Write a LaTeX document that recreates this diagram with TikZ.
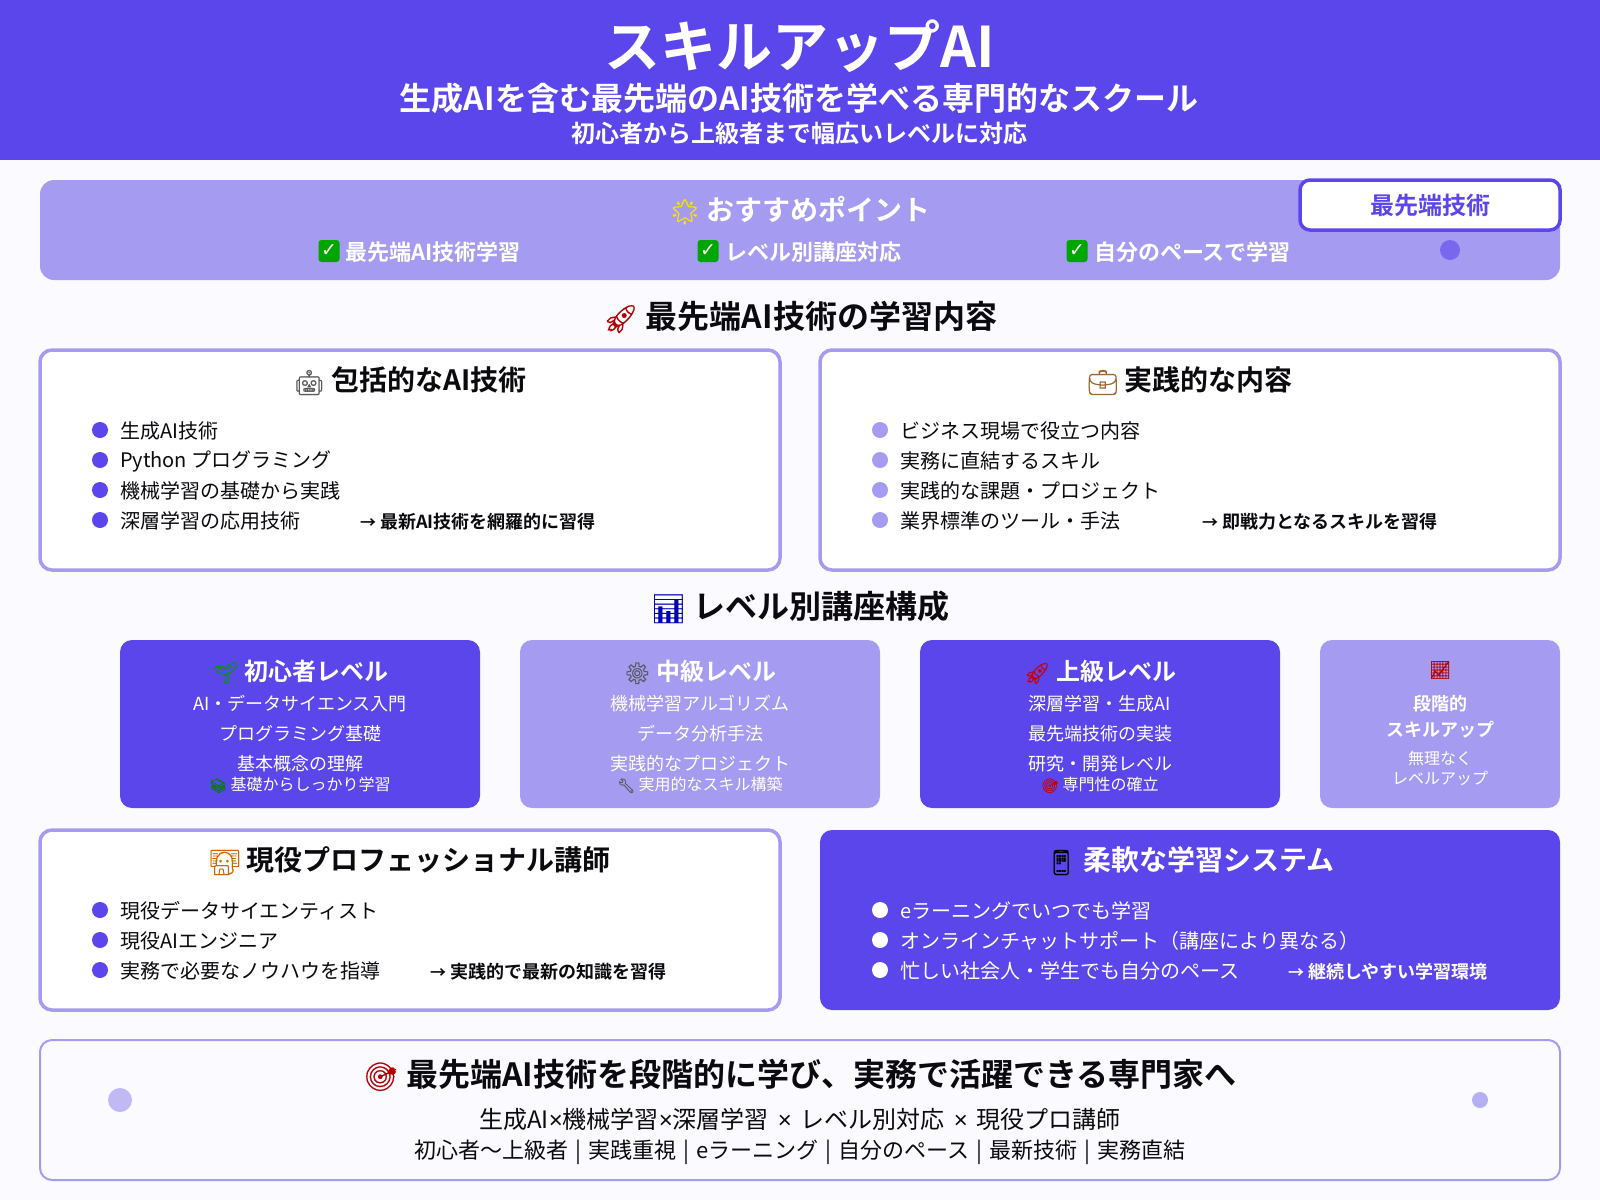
\documentclass[tikz,border=0pt]{standalone}
\usepackage{fontspec}
\setmainfont{Noto Sans CJK JP}[BoldFont={Noto Sans CJK JP Bold},Script=CJK]
\newfontfamily\emj{Noto Emoji}[Scale=0.88,FakeBold=0.6]
\newfontfamily\djv{DejaVu Sans}
\newfontfamily\lat{Liberation Sans}
\definecolor{pri}{HTML}{5B46EC}
\definecolor{lit}{HTML}{A59BF0}
\definecolor{bg}{HTML}{FAFAFF}
\definecolor{ink}{HTML}{0A0A0F}
\newcommand{\fs}[1]{\fontsize{#1}{#1}\selectfont}
\newcommand{\emo}[2]{{\color{#1}\emj #2}}
\newcommand{\arr}{{\fs{16}→}}
\newcommand{\sepbar}{\hspace{7pt}|\hspace{7pt}}
\newcommand{\tms}{{\lat ×}}
\newcommand{\wtms}{\hspace{9pt}{\lat ×}\hspace{9pt}}
\tikzset{
  x=1pt,y=-1pt,
  txt/.style={inner sep=0pt,outer sep=0pt,anchor=center,text=ink},
  title/.style={txt,font=\fs{28}\bfseries},
  head/.style={txt,font=\fs{32}\bfseries},
  item/.style={txt,anchor=west,font=\fs{20}},
  note/.style={txt,anchor=west,font=\fs{18}\bfseries},
  lvltitle/.style={txt,text=white,font=\fs{24}\bfseries},
  lvlitem/.style={txt,text=white,font=\fs{18}},
  lvlsub/.style={txt,text=white,font=\fs{16}},
  card/.style={draw=lit,line width=3.5pt,fill=white,rounded corners=12pt},
  dotp/.style={circle,fill=pri,minimum size=16pt,inner sep=0pt},
  dotl/.style={circle,fill=lit,minimum size=16pt,inner sep=0pt},
  dotw/.style={circle,fill=white,minimum size=16pt,inner sep=0pt},
  check/.style={fill=green!65!black,rounded corners=3pt,minimum width=21pt,minimum height=22pt,inner sep=0pt,text=white,font=\djv\fs{19}\bfseries},
}
\begin{document}
\begin{tikzpicture}
\useasboundingbox (0,0) rectangle (1600,1200);
\fill[bg] (0,0) rectangle (1600,1200);
% header
\fill[pri] (0,0) rectangle (1600,160);
\node[txt,text=white,font=\fs{56}\bfseries] (t1) at (800,46) {スキルアップAI};
\node[txt,text=white,font=\fs{32}\bfseries] (t2) at (799,98) {生成AIを含む最先端のAI技術を学べる専門的なスクール};
\node[txt,text=white,font=\fs{24}\bfseries] (t3) at (799,133) {初心者から上級者まで幅広いレベルに対応};
% recommend band
\fill[lit,rounded corners=14pt] (40,180) rectangle (1560,280);
\node[txt,text=white,font=\fs{28}\bfseries] (rec) at (800,210) {\emo{yellow!85!orange}{🌟} おすすめポイント};
\node[check] (c1) at (329,251) {✓};
\node[txt,anchor=west,text=white,font=\fs{22}\bfseries] (r1) at (345,252) {最先端AI技術学習};
\node[check] (c2) at (708,251) {✓};
\node[txt,anchor=west,text=white,font=\fs{22}\bfseries] (r2) at (725,252) {レベル別講座対応};
\node[check] (c3) at (1077,251) {✓};
\node[txt,anchor=west,text=white,font=\fs{22}\bfseries] (r3) at (1094,252) {自分のペースで学習};
\draw[pri,line width=3.5pt,fill=white,rounded corners=10pt] (1300,180) rectangle (1560,230);
\node[txt,text=pri,font=\fs{24}\bfseries] (badge) at (1430,205) {最先端技術};
\node[circle,fill=pri!60!lit,minimum size=20pt,inner sep=0pt] (d1) at (1450,250) {};
% section 1
\node[head] (s1) at (800,317) {\emo{red!70!black}{🚀} 最先端AI技術の学習内容};
\draw[card] (40,350) rectangle (780,570);
\node[title] (a0) at (410,381) {\emo{gray!70!black}{🤖} 包括的なAI技術};
\foreach \n/\y/\t in {1/430/生成AI技術,2/460/Python プログラミング,3/490/機械学習の基礎から実践,4/520/深層学習の応用技術}{
  \node[dotp] (ad\n) at (100,\y) {};
  \node[item] (at\n) at (120,\y+1.3) {\t};
}
\node[note] (an) at (360,522) {\arr\ 最新AI技術を網羅的に習得};
\draw[card] (820,350) rectangle (1560,570);
\node[title] (b0) at (1190,381) {\emo{brown!80!black}{💼} 実践的な内容};
\foreach \n/\y/\t in {1/430/ビジネス現場で役立つ内容,2/460/実務に直結するスキル,3/490/実践的な課題・プロジェクト,4/520/業界標準のツール・手法}{
  \node[dotl] (bd\n) at (880,\y) {};
  \node[item] (bt\n) at (900,\y+1.3) {\t};
}
\node[note] (bn) at (1202,522) {\arr\ 即戦力となるスキルを習得};
% section 2
\node[head] (s2) at (800,607) {\emo{blue!70!black}{📊} レベル別講座構成};
\fill[pri,rounded corners=12pt] (120,640) rectangle (480,808);
\node[lvltitle] (l10) at (300,672) {\emo{green!60!black}{🌱} 初心者レベル};
\node[lvlitem] (l11) at (300,704) {AI・データサイエンス入門};
\node[lvlitem] (l12) at (300,734) {プログラミング基礎};
\node[lvlitem] (l13) at (300,764) {基本概念の理解};
\node[lvlsub] (l14) at (300,785) {\emo{green!50!black}{📚} 基礎からしっかり学習};
\fill[lit,rounded corners=12pt] (520,640) rectangle (880,808);
\node[lvltitle] (l20) at (700,672) {\emo{gray!70!black}{⚙} 中級レベル};
\node[lvlitem] (l21) at (700,704) {機械学習アルゴリズム};
\node[lvlitem] (l22) at (700,734) {データ分析手法};
\node[lvlitem] (l23) at (700,764) {実践的なプロジェクト};
\node[lvlsub] (l24) at (700,785) {\emo{gray!70!black}{🔧} 実用的なスキル構築};
\fill[pri,rounded corners=12pt] (920,640) rectangle (1280,808);
\node[lvltitle] (l30) at (1100,672) {\emo{red!80!black}{🚀} 上級レベル};
\node[lvlitem] (l31) at (1100,704) {深層学習・生成AI};
\node[lvlitem] (l32) at (1100,734) {最先端技術の実装};
\node[lvlitem] (l33) at (1100,764) {研究・開発レベル};
\node[lvlsub] (l34) at (1100,785) {\emo{red!80!black}{🎯} 専門性の確立};
\fill[lit,rounded corners=12pt] (1320,640) rectangle (1560,808);
\node[txt,font=\emj\fs{20},text=red!70!black] (l40) at (1440,670) {📈};
\node[lvlitem,font=\fs{18}\bfseries] (l41) at (1440,704) {段階的};
\node[lvlitem,font=\fs{18}\bfseries] (l42) at (1440,730) {スキルアップ};
\node[lvlsub] (l43) at (1440,758) {無理なく};
\node[lvlsub] (l44) at (1440,778) {レベルアップ};
% pro
\draw[card] (40,830) rectangle (780,1010);
\node[title] (p0) at (410,861) {\emo{orange!80!black}{👨‍💻} 現役プロフェッショナル講師};
\foreach \n/\y/\t in {1/910/現役データサイエンティスト,2/940/現役AIエンジニア,3/970/実務で必要なノウハウを指導}{
  \node[dotp] (pd\n) at (100,\y) {};
  \node[item] (pt\n) at (120,\y+1.3) {\t};
}
\node[note] (pn) at (430,972) {\arr\ 実践的で最新の知識を習得};
% flexible
\fill[pri,rounded corners=12pt] (820,830) rectangle (1560,1010);
\node[title,text=white] (f0) at (1190,861) {\emo{black}{📱} 柔軟な学習システム};
\foreach \n/\y/\t in {1/910/eラーニングでいつでも学習,2/940/オンラインチャットサポート（講座により異なる）,3/970/忙しい社会人・学生でも自分のペース}{
  \node[dotw] (fd\n) at (880,\y) {};
  \node[item,text=white] (ft\n) at (900,\y+1.3) {\t};
}
\node[note,text=white] (fn) at (1288,972) {\arr\ 継続しやすい学習環境};
% footer
\draw[lit,line width=2pt,fill=bg,rounded corners=12pt] (40,1040) rectangle (1560,1180);
\node[txt,font=\fs{32}\bfseries] (z0) at (800,1075) {\emo{red!70!black}{🎯} 最先端AI技術を段階的に学び、実務で活躍できる専門家へ};
\node[txt,font=\fs{24}] (z1) at (800,1119) {生成AI\tms 機械学習\tms 深層学習\wtms レベル別対応\wtms 現役プロ講師};
\node[txt,font=\fs{22}] (z2) at (800,1152) {初心者～上級者\sepbar 実践重視\sepbar eラーニング\sepbar 自分のペース\sepbar 最新技術\sepbar 実務直結};
\node[circle,fill=lit!70!white,minimum size=24pt,inner sep=0pt] (zc1) at (120,1100) {};
\node[circle,fill=lit!80!white,minimum size=16pt,inner sep=0pt] (zc2) at (1480,1100) {};
\end{tikzpicture}
\end{document}
